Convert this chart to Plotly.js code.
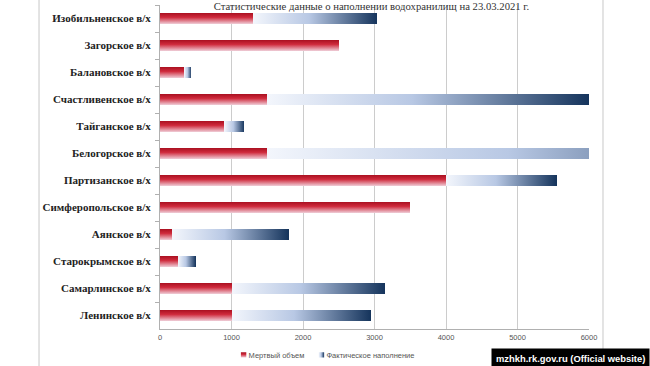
<!DOCTYPE html>
<html>
<head>
<meta charset="utf-8">
<script src="https://cdn.plot.ly/plotly-3.0.1.min.js"></script>
<style>html,body{margin:0;padding:0;background:#fff;}#chart{width:650px;height:366px;}</style>
</head>
<body>
<div id="chart"></div>
<script>
const categories = [
  "Изобильненское в/х",
  "Загорское в/х",
  "Балановское в/х",
  "Счастливенское в/х",
  "Тайганское в/х",
  "Белогорское в/х",
  "Партизанское в/х",
  "Симферопольское в/х",
  "Аянское в/х",
  "Старокрымское в/х",
  "Самарлинское в/х",
  "Ленинское в/х"
];
const deadVolume = [1300, 2500, 340, 1500, 900, 1500, 4000, 3500, 170, 250, 1000, 1000];
const actualFill = [1740, 0, 100, 4500, 280, 7500, 1550, 0, 1630, 250, 2150, 1950];
const xTicks = [0, 1000, 2000, 3000, 4000, 5000, 6000];
const seriesNames = ["Мертвый объем", "Фактическое наполнение"];
const titleText = "Статистические данные о наполнении водохранилищ на 23.03.2021 г.";

const traces = [
  {type: "bar", orientation: "h", name: seriesNames[0], y: categories, x: deadVolume,
   marker: {color: "#c8283a", line: {width: 0}}, hoverinfo: "x+y"},
  {type: "bar", orientation: "h", name: seriesNames[1], y: categories, x: actualFill,
   marker: {color: "#7f99c2", line: {width: 0}}, hoverinfo: "x+y"}
];

const layout = {
  width: 650, height: 366,
  margin: {l: 160, r: 61, t: 5, b: 37, autoexpand: false},
  paper_bgcolor: "#ffffff", plot_bgcolor: "#ffffff",
  barmode: "stack", bargap: 0.58,
  showlegend: true,
  legend: {orientation: "h", x: 0.386, xanchor: "center", y: -0.080, yanchor: "middle",
           bgcolor: "rgba(0,0,0,0)",
           font: {family: "Liberation Sans, Arial, sans-serif", size: 7.5, color: "#555"},
           itemwidth: 30, traceorder: "normal"},
  title: {text: titleText, x: 0.5715, xanchor: "center", y: 0.982, yanchor: "middle",
          font: {family: "Liberation Serif, Times New Roman, serif", size: 10.7, color: "#333"}},
  xaxis: {range: [0, 6000], tickvals: xTicks, ticktext: xTicks.map(String),
          showgrid: true, gridcolor: "#cccccc", gridwidth: 1, zeroline: false,
          showline: true, linecolor: "#b0b0b0", ticks: "",
          ticklabelstandoff: 1,
          tickfont: {family: "Liberation Sans, Arial, sans-serif", size: 7.5, color: "#555"}, fixedrange: true},
  yaxis: {type: "category", categoryorder: "array", categoryarray: categories, autorange: "reversed",
          showline: true, linecolor: "#b0b0b0", ticks: "outside", ticklen: 4, tickcolor: "#b0b0b0",
          tickson: "boundaries", showgrid: false, ticklabelstandoff: 6,
          tickfont: {family: "Liberation Serif, Times New Roman, serif", size: 11, color: "#222", weight: "bold"},
          fixedrange: true},
  shapes: [
    {type: "line", xref: "paper", yref: "paper", x0: -0.282, x1: -0.282, y0: -0.2, y1: 1.05,
     line: {color: "#c8c8c8", width: 1}},
    {type: "line", xref: "paper", yref: "paper", x0: 1.0326, x1: 1.0326, y0: -0.2, y1: 1.05,
     line: {color: "#c8c8c8", width: 1}}
  ],
  annotations: [
    {text: "<b>mzhkh.rk.gov.ru (Official website)</b>", xref: "paper", yref: "paper",
     x: 1.142, xanchor: "right", y: -0.0586, yanchor: "top", showarrow: false,
     bgcolor: "#000000", borderpad: 4,
     font: {family: "Liberation Sans, Arial, sans-serif", size: 9.4, color: "#ffffff"}}
  ]
};

const gd = document.getElementById("chart");
Plotly.newPlot(gd, traces, layout, {displayModeBar: false, staticPlot: true}).then(function () {
  const NS = "http://www.w3.org/2000/svg";
  const svg = gd.querySelector("svg.main-svg");
  let defs = svg.querySelector("defs");
  if (!defs) { defs = document.createElementNS(NS, "defs"); svg.insertBefore(defs, svg.firstChild); }
  function grad(id, attrs, stops) {
    const g = document.createElementNS(NS, "linearGradient");
    g.setAttribute("id", id);
    Object.keys(attrs).forEach(function (k) { g.setAttribute(k, attrs[k]); });
    stops.forEach(function (s) {
      const st = document.createElementNS(NS, "stop");
      st.setAttribute("offset", s[0]);
      st.setAttribute("stop-color", s[1]);
      g.appendChild(st);
    });
    defs.appendChild(g);
  }
  const redStops = [["0%", "#a80f1f"], ["40%", "#cf2a3c"], ["100%", "#f0d2dc"]];
  const blueStops = [["0%", "#f3f6fc"], ["45%", "#b8c8e4"], ["100%", "#15345c"]];
  grad("gradRed", {x1: 0, y1: 0, x2: 0, y2: 1}, redStops);
  grad("gradBlueBox", {x1: 0, y1: 0, x2: 1, y2: 0}, blueStops);
  const xa = gd._fullLayout.xaxis;
  const tr = gd.querySelectorAll(".barlayer .trace");
  tr.forEach(function (t, i) {
    t.querySelectorAll(".point").forEach(function (pt) {
      const p = pt.querySelector("path");
      if (!p) return;
      const d = pt.__data__;
      if (i === 0) {
        p.style.fill = "url(#gradRed)";
      } else {
        const idx = d && d.i !== undefined ? d.i : 0;
        const s = deadVolume[idx], e = deadVolume[idx] + actualFill[idx];
        const id = "gradBlue" + idx;
        grad(id, {gradientUnits: "userSpaceOnUse", x1: xa.l2p(s), y1: 0, x2: xa.l2p(e), y2: 0}, blueStops);
        p.style.fill = "url(#" + id + ")";
      }
    });
  });
  const legTraces = gd.querySelectorAll(".legend .traces");
  legTraces.forEach(function (t, i) {
    t.querySelectorAll(".legendpoints path").forEach(function (p) {
      p.style.fill = i === 0 ? "url(#gradRed)" : "url(#gradBlueBox)";
      p.setAttribute("transform", "translate(35,0) scale(0.45)");
    });
    if (i === 1) {
      const tf = t.getAttribute("transform") || "";
      const m = tf.match(/translate\(\s*([-\d.]+)[ ,]+([-\d.]+)\s*\)/);
      if (m) t.setAttribute("transform", "translate(" + (parseFloat(m[1]) - 23) + "," + m[2] + ")");
    }
  });
});
</script>
</body>
</html>
